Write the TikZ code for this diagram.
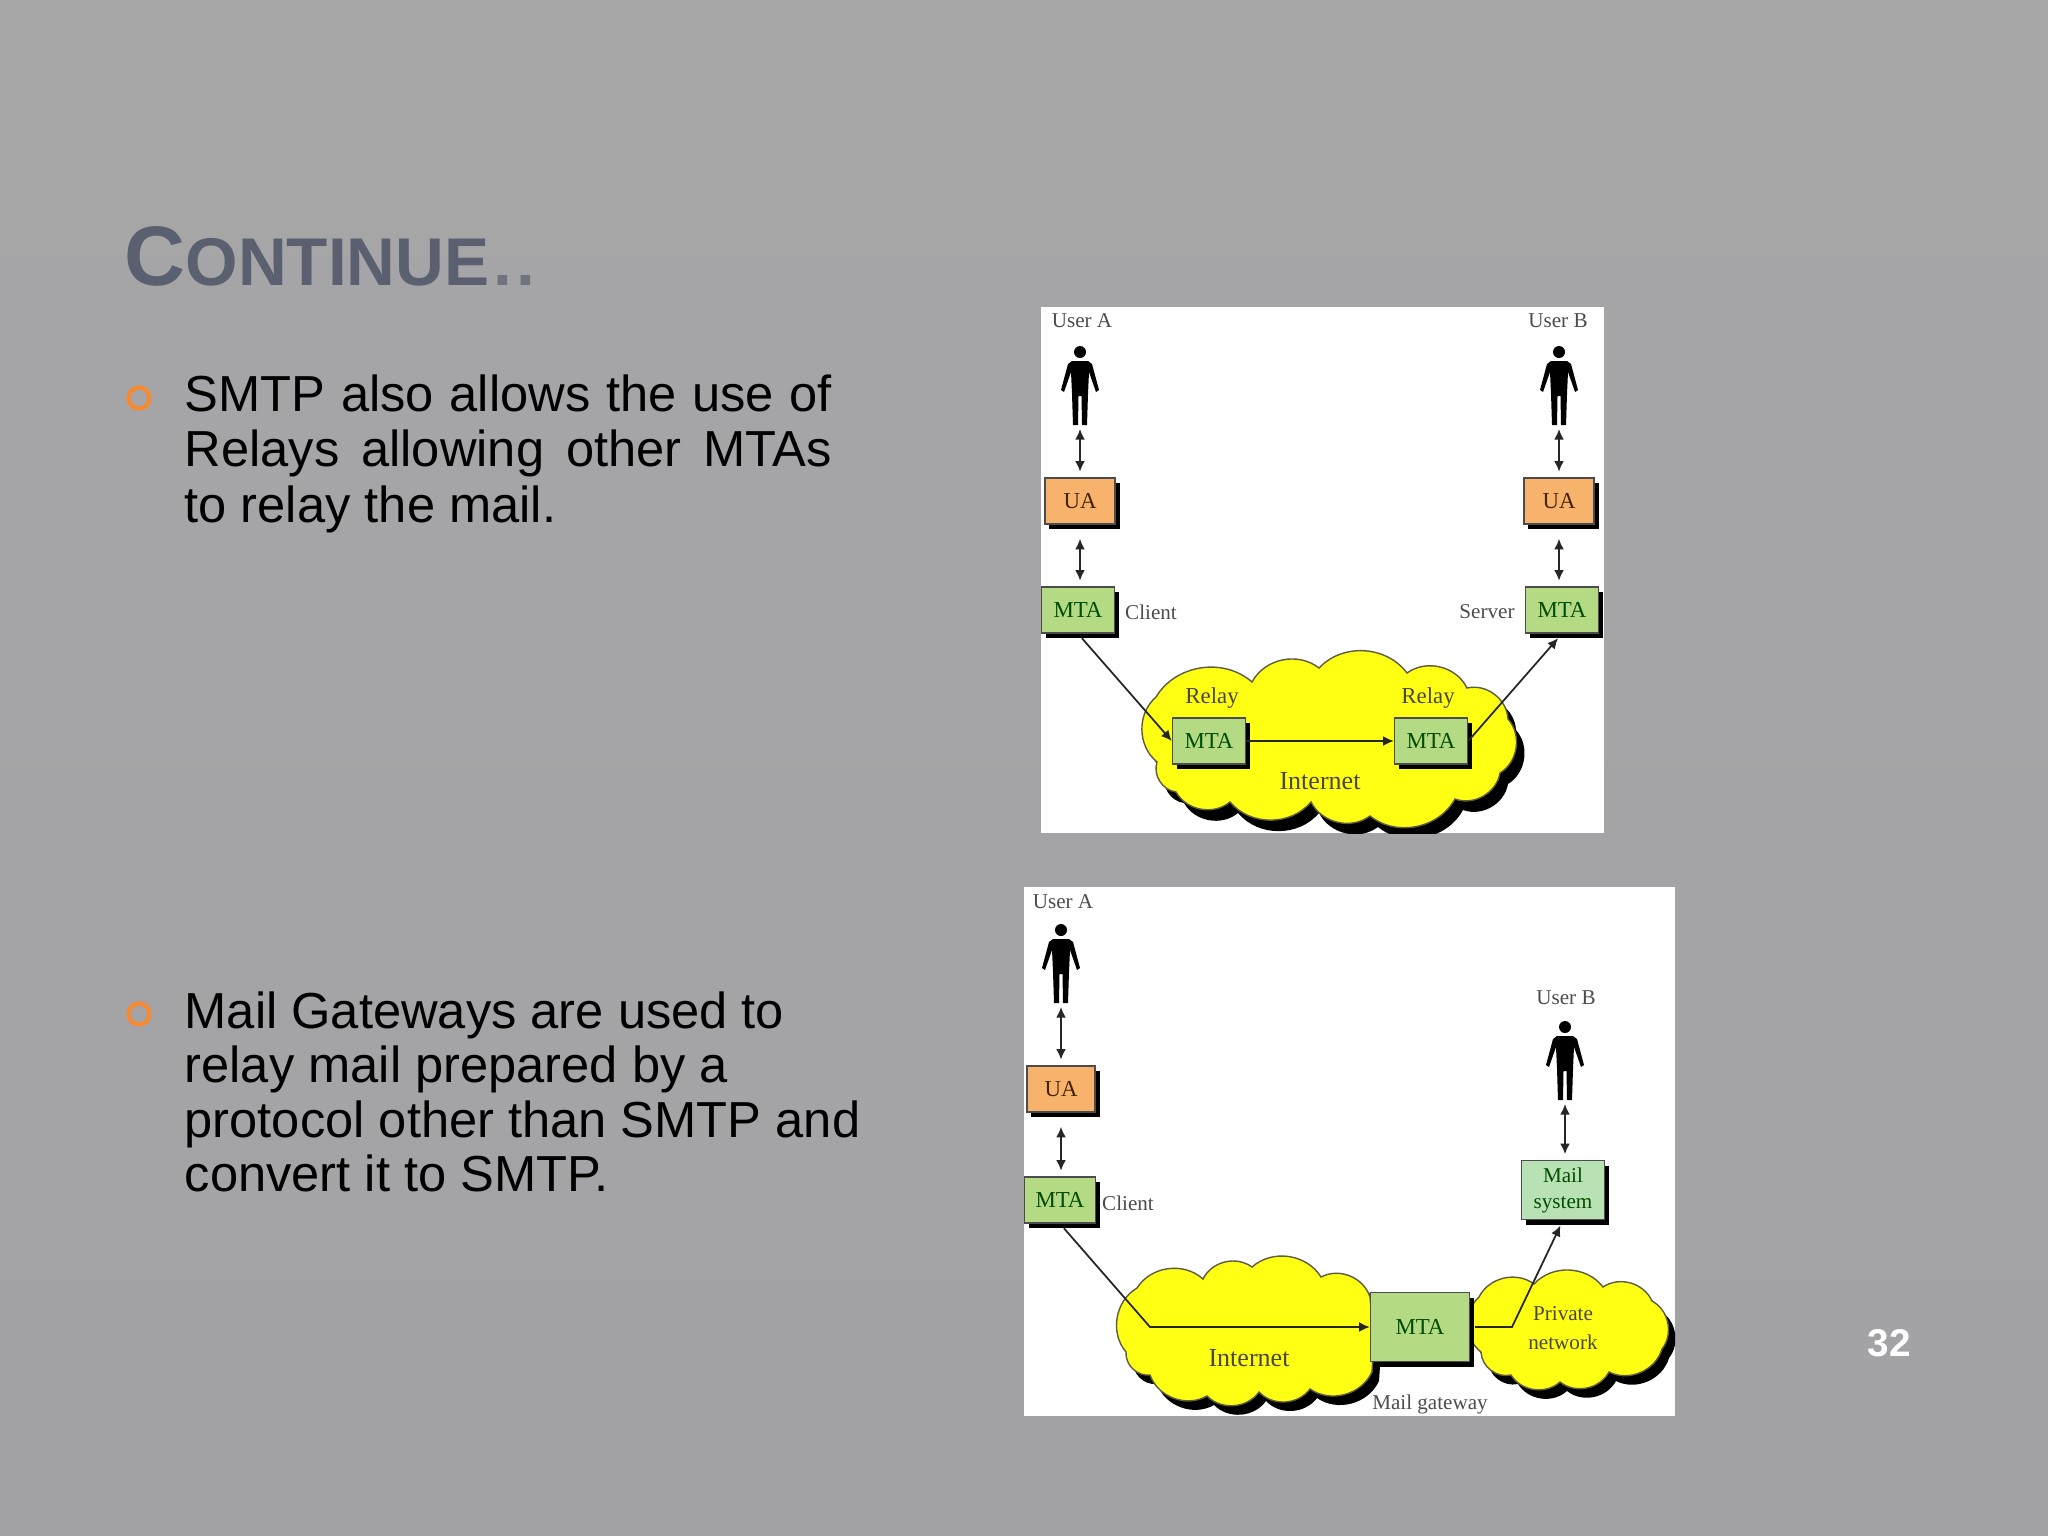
\documentclass[tikz,border=0pt]{standalone}
\usepackage{amsmath, amssymb, tikz}
\usepackage{fontspec}
\setmainfont{Liberation Sans}
\newfontfamily\figfont{Liberation Serif}
\usetikzlibrary{arrows.meta,shadows}

\definecolor{slidetop}{HTML}{A6A6A7}
\definecolor{slidebot}{HTML}{A3A3A6}
\definecolor{titlegray}{HTML}{5A6070}
\definecolor{dotgray}{HTML}{70747F}
\definecolor{bulletorange}{HTML}{F58A33}
\definecolor{uafill}{HTML}{F7B36C}
\definecolor{mtafill}{HTML}{B4DA84}
\definecolor{mailfill}{HTML}{B8E2B4}
\definecolor{cloudyellow}{HTML}{FFFF14}

\tikzset{
  boxshadow/.style={drop shadow={shadow xshift=0.045cm,shadow yshift=-0.05cm,fill=black,opacity=1}},
  uabox/.style={draw=black!70,fill=uafill,boxshadow,minimum width=0.68cm,minimum height=0.46cm,inner sep=0pt,
    text=black!55!orange!60!black,font=\figfont\fontsize{6.5}{7}\selectfont},
  mtabox/.style={draw=black!70,fill=mtafill,boxshadow,minimum width=0.71cm,minimum height=0.46cm,inner sep=0pt,
    text=green!30!black,font=\figfont\fontsize{6.5}{7}\selectfont},
  figlabel/.style={inner sep=0pt,text=black!70,font=\figfont\fontsize{6}{7}\selectfont},
  cloudlabel/.style={inner sep=0pt,text=black!70!yellow!60!black,font=\figfont\fontsize{6.5}{7.5}\selectfont},
  bulletring/.style={circle,draw=bulletorange,line width=1.2pt,minimum size=0.21cm,inner sep=0pt},
  bodytext/.style={inner sep=0pt,anchor=north west,align=left},
  linkline/.style={line width=0.5pt,black!85,-{Latex[length=3pt,width=2.8pt]},shorten <=1.7pt},
  twoway/.style={line width=0.5pt,black!85,{Latex[length=3pt,width=2.8pt]}-{Latex[length=3pt,width=2.8pt]},shorten <=4pt,shorten >=1.6pt},
  cloudedge/.style={fill=cloudyellow,draw=black!60!yellow!70!black,line width=0.4pt},
  person/.pic={
    \fill[black] (0,0) circle (0.06cm);
    \fill[black] (-8,9) -- (8,9) -- (12,12) -- (19,38) -- (16,40) -- (9,20) -- (8,42) -- (7,73)
      -- (2,73) -- (1.5,44) -- (-1.5,44) -- (-2,73) -- (-7,73) -- (-8,42) -- (-9,20) -- (-16,40)
      -- (-19,38) -- (-12,12) -- cycle;
    \coordinate (-feet) at (0,77);
  }
}

% cloud outlines, cusp to cusp
\newcommand{\puff}{to[bend left=50]}
\def\cloudrelay{(1156,697) \puff (1252,682) \puff (1319,668) \puff (1407,673) \puff (1467,688)
  \puff (1508,719) \puff (1500,773) \puff (1455,799) \puff (1370,816) \puff (1311,802)
  \puff (1230,802) \puff (1176,792) \puff (1157,762) \puff (1156,697) -- cycle}
\def\cloudnet{(1137,1288) \puff (1203,1279) \puff (1252,1267) \puff (1321,1277) \puff (1370,1297)
  -- (1374,1342) -- (1372,1372) \puff (1310,1389) \puff (1259,1392) \puff (1207,1396)
  \puff (1150,1375) \puff (1126,1352) \puff (1137,1288) -- cycle}
\def\cloudprivate{(1479,1297) \puff (1534,1284) \puff (1603,1287) \puff (1652,1301) \puff (1662,1349)
  \puff (1609,1372) \puff (1560,1382) \puff (1511,1375) \puff (1481,1352) \puff (1479,1297) -- cycle}

\begin{document}
\begin{tikzpicture}[x=0.01cm,y=-0.01cm]
  \useasboundingbox (0,0) rectangle (2048,1536);
  \shade[top color=slidetop,bottom color=slidebot] (0,0) rectangle (2048,1536);

  % left column
  \node[inner sep=0pt,anchor=base west,text=titlegray,font=\bfseries] (title) at (124,285)
    {\fontsize{24}{28}\selectfont C\fontsize{19.2}{28}\selectfont ONTINUE\textcolor{dotgray}{\kern0.06em.\kern0.06em.}};
  \node[bulletring] (bulletA) at (139,398) {};
  \node[bodytext,text width=6.47cm,align=justify,font=\fontsize{14.4}{15.8}\selectfont] (textA) at (184,374)
    {SMTP also allows the use of\linebreak Relays allowing other MTAs\linebreak to relay the mail.};
  \node[bulletring] (bulletB) at (139,1014) {};
  \node[bodytext,font=\fontsize{14.4}{15.5}\selectfont] (textB) at (184,991)
    {Mail Gateways are used to\\relay mail prepared by a\\protocol other than SMTP and\\convert it to SMTP.};
  \node[inner sep=0pt,text=white,font=\bfseries\fontsize{11}{13}\selectfont] (pagenum) at (1889,1343) {32};

  % relay figure
  \fill[white] (1041,307) rectangle (1604,833);
  \begin{scope}
    \clip (1041,307) rectangle (1604,833);
    \fill[black,shift={(8,11)}] \cloudrelay;
    \draw[cloudedge] \cloudrelay;
  \end{scope}
  \node[figlabel] (userA) at (1082,321) {User A};
  \node[figlabel] (userB) at (1558,321) {User B};
  \pic (manA) at (1080,352) {person};
  \pic (manB) at (1559,352) {person};
  \node[uabox,minimum width=0.70cm] (uaA) at (1080,501) {UA};
  \node[uabox,minimum width=0.70cm] (uaB) at (1559,501) {UA};
  \node[mtabox,minimum width=0.73cm] (client) at (1078,610) {MTA};
  \node[mtabox,minimum width=0.73cm] (server) at (1562,610) {MTA};
  \node[figlabel] (clientlabel) at (1151,612) {Client};
  \node[figlabel] (serverlabel) at (1487,612) {Server};
  \node[mtabox,minimum width=0.73cm] (relayA) at (1209,741) {MTA};
  \node[mtabox,minimum width=0.73cm] (relayB) at (1431,741) {MTA};
  \node[cloudlabel] (relaylabelA) at (1212,698) {Relay};
  \node[cloudlabel] (relaylabelB) at (1428,698) {Relay};
  \node[cloudlabel,font=\figfont\fontsize{7.4}{8}\selectfont] (netA) at (1320,781) {Internet};

  \draw[twoway,shorten <=0pt] (manA-feet) -- (uaA.north);
  \draw[twoway,shorten <=0pt] (manB-feet) -- (uaB.north);
  \draw[twoway] (uaA.south) -- (uaA.south |- client.north);
  \draw[twoway] (uaB.south) -- (uaB.south |- server.north);
  \draw[linkline] (client.south) -- (relayA.west);
  \draw[linkline,shorten <=0pt] (relayA.east) -- (relayB.west);
  \draw[linkline,shorten <=0pt,shorten >=1.7pt] (relayB.east) -- (server.south);

  % gateway figure
  \fill[white] (1024,887) rectangle (1675,1416);
  \begin{scope}
    \clip (1024,887) rectangle (1675,1416);
    \fill[black,shift={(7,9)}] \cloudnet;
    \fill[black,shift={(7,9)}] \cloudprivate;
    \draw[cloudedge] \cloudnet;
    \draw[cloudedge] \cloudprivate;
  \end{scope}
  \node[figlabel] (userC) at (1063,902) {User A};
  \node[figlabel] (userD) at (1566,998) {User B};
  \pic (manC) at (1061,930) {person};
  \pic (manD) at (1565,1027) {person};
  \node[uabox] (uaC) at (1061,1089) {UA};
  \node[mtabox] (sender) at (1060,1200) {MTA};
  \node[figlabel] (senderlabel) at (1128,1203) {Client};
  \node[mtabox,fill=mailfill,minimum width=0.83cm,minimum height=0.59cm,align=center,font=\figfont\fontsize{6}{7.4}\selectfont] (mailsys) at (1563,1190) {Mail\\system};
  \node[mtabox,minimum width=0.99cm,minimum height=0.69cm] (gateway) at (1420,1327) {MTA};
  \node[figlabel] (gatewaylabel) at (1430,1404) {Mail gateway};
  \node[cloudlabel,font=\figfont\fontsize{7.4}{8}\selectfont] (netB) at (1249,1358) {Internet};
  \node[cloudlabel,align=center,font=\figfont\fontsize{6}{8.2}\selectfont] (privatelabel) at (1563,1328) {Private\\network};
  \coordinate (bendin) at (1150,1327);
  \coordinate (bendout) at (1512,1327);

  \draw[twoway,shorten <=0pt] (manC-feet) -- (uaC.north);
  \draw[twoway,shorten <=0pt] (manD-feet) -- (manD-feet |- mailsys.north);
  \draw[twoway] (uaC.south) -- (uaC.south |- sender.north);
  \draw[linkline] (sender.south) -- (bendin) -- (gateway.west);
  \draw[linkline,shorten <=1.4pt,shorten >=1.7pt] (gateway.east) -- (bendout) -- (mailsys.south);
\end{tikzpicture}
\end{document}
